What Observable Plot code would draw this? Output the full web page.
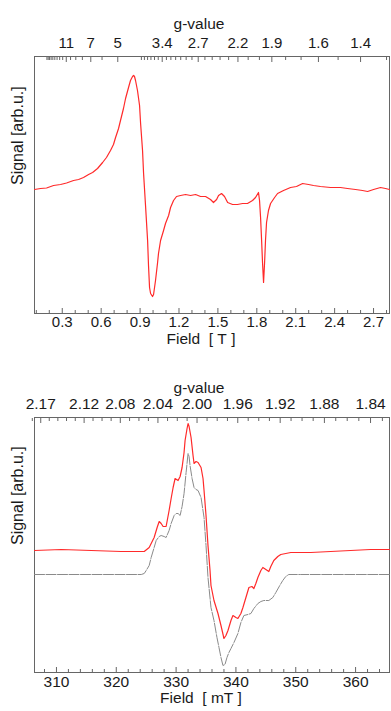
<!DOCTYPE html>
<html><head><meta charset="utf-8">
<script src="https://cdn.jsdelivr.net/npm/d3@7"></script>
<script src="https://cdn.jsdelivr.net/npm/@observablehq/plot@0.6"></script>
<style>
body{margin:0;background:#fff;}
#c{width:391px;}
#c svg{display:block;}
</style></head><body><div id="c"></div>
<script>
// ---------- Top panel: wide-field EPR spectrum (Field in T) ----------
const topField = [0.086,0.133,0.179,0.233,0.287,0.333,0.387,0.426,0.464,0.503,0.534,0.572,0.611,0.641,0.672,0.695,0.711,0.734,0.749,0.772,0.788,0.811,0.826,0.842,0.850,0.857,0.865,0.880,0.896,0.904,0.919,0.927,0.942,0.958,0.965,0.973,0.981,0.996,1.004,1.019,1.035,1.042,1.058,1.081,1.096,1.120,1.135,1.158,1.181,1.212,1.251,1.289,1.328,1.366,1.405,1.443,1.466,1.490,1.505,1.528,1.551,1.575,1.613,1.651,1.690,1.728,1.767,1.790,1.813,1.821,1.829,1.837,1.844,1.852,1.860,1.867,1.875,1.890,1.906,1.937,1.960,2.006,2.060,2.106,2.153,2.199,2.237,2.291,2.368,2.445,2.499,2.561,2.615,2.654,2.700,2.754,2.792,2.823];
const topSignal = [0,0.01,0.015,0.04,0.05,0.065,0.09,0.10,0.12,0.15,0.17,0.21,0.27,0.32,0.39,0.45,0.52,0.61,0.69,0.81,0.91,1.02,1.09,1.13,1.14,1.13,1.09,0.99,0.84,0.66,0.39,0.16,-0.16,-0.51,-0.76,-0.98,-1.04,-1.07,-1.05,-0.91,-0.73,-0.64,-0.51,-0.41,-0.34,-0.26,-0.18,-0.11,-0.07,-0.06,-0.05,-0.06,-0.05,-0.07,-0.07,-0.10,-0.13,-0.10,-0.06,-0.04,-0.07,-0.13,-0.15,-0.15,-0.14,-0.14,-0.11,-0.08,-0.03,-0.11,-0.28,-0.51,-0.73,-0.93,-0.73,-0.51,-0.33,-0.21,-0.14,-0.08,-0.04,-0.01,0.02,0.03,0.06,0.05,0.04,0.03,0.02,0.02,0.01,0,-0.01,-0.02,0,0.02,0.01,0];
const topFieldTicks = [0.3,0.6,0.9,1.2,1.5,1.8,2.1,2.4,2.7];
const topFieldMinor = [0.1,0.2,0.4,0.5,0.7,0.8,1.0,1.1,1.3,1.4,1.6,1.7,1.9,2.0,2.2,2.3,2.5,2.6,2.8];
const topGTicks = [11,7,5,3.4,2.7,2.2,1.9,1.6,1.4];
const topGLabels = ["11","7","5","3.4","2.7","2.2","1.9","1.6","1.4"];
const topGMinor = [20,19,18,17,16,15,14,13,12,10,9,8,6,4,3.9,3.8,3.7,3.6,3.5,3.3,3.2,3.1,3.0,2.9,2.8,2.6,2.5,2.4,2.3,2.1,2.0,1.8,1.7,1.5,1.3];
const topGB = 3.64;   // g * B [T]

// ---------- Bottom panel: X-band spectrum (Field in mT) ----------
const botField = [306.33,310.83,315.83,320.83,324.67,325.5,326.33,326.83,327.17,327.5,327.83,328.33,328.83,329.17,329.5,329.83,330.33,330.67,331.0,331.33,331.5,331.83,332.0,332.17,332.5,332.83,333.0,333.33,333.67,334.17,334.5,334.67,335.0,335.33,335.67,335.83,336.33,337.0,337.5,338.0,338.33,338.67,339.17,339.5,340.0,340.33,340.83,341.17,341.67,342.17,342.67,343.0,343.33,343.67,344.17,344.5,345.0,345.5,345.83,346.33,347.0,347.5,349.17,352.5,355.83,359.17,362.5,365.67];
const botSignal = [0.24,0.25,0.24,0.23,0.23,0.27,0.37,0.47,0.53,0.51,0.48,0.48,0.64,0.76,0.87,0.96,0.94,0.98,1.07,1.22,1.34,1.46,1.51,1.48,1.37,1.19,1.11,1.13,1.12,1.07,0.96,0.84,0.59,0.29,0.04,-0.11,-0.26,-0.39,-0.51,-0.64,-0.61,-0.56,-0.46,-0.41,-0.43,-0.44,-0.39,-0.33,-0.23,-0.13,-0.12,-0.14,-0.09,-0.03,0.04,0.07,0.05,0.03,0.08,0.14,0.18,0.20,0.22,0.22,0.23,0.24,0.25,0.25];
const simField = [306.33,324.17,324.67,325.0,325.5,325.83,326.33,326.67,327.17,327.5,328.0,328.33,328.83,329.17,329.67,330.0,330.33,330.67,331.0,331.33,331.67,332.0,332.17,332.33,332.67,333.0,333.33,333.67,334.17,334.67,335.0,335.33,335.83,336.33,336.83,337.17,337.5,337.83,338.17,338.5,338.83,339.17,339.67,340.33,340.83,341.33,342.0,342.5,343.0,343.67,344.17,344.67,345.5,346.17,346.67,347.33,347.83,348.33,348.83,350.83,365.67];
const simSignal = [0,0,0.01,0.04,0.09,0.17,0.27,0.34,0.38,0.39,0.38,0.37,0.44,0.51,0.59,0.61,0.61,0.59,0.68,0.81,1.02,1.21,1.18,1.09,0.96,0.87,0.85,0.84,0.77,0.57,0.29,-0.03,-0.33,-0.46,-0.63,-0.73,-0.83,-0.91,-0.90,-0.83,-0.78,-0.74,-0.68,-0.59,-0.48,-0.41,-0.40,-0.39,-0.34,-0.29,-0.27,-0.26,-0.26,-0.23,-0.18,-0.11,-0.06,-0.02,0,0,0];
const botFieldTicks = [310,320,330,340,350,360];
const botFieldMinor = [308,312,314,316,318,322,324,326,328,332,334,336,338,342,344,346,348,352,354,356,358,362,364];
const botGTicks = [2.17,2.12,2.08,2.04,2.00,1.96,1.92,1.88,1.84];
const botGLabels = ["2.17","2.12","2.08","2.04","2.00","1.96","1.92","1.88","1.84"];
const botGMinor = [2.18,2.16,2.15,2.14,2.13,2.11,2.10,2.09,2.07,2.06,2.05,2.03,2.02,2.01,1.99,1.98,1.97,1.95,1.94,1.93,1.91,1.90,1.89,1.87,1.86,1.85,1.83];
const botGB = 667;    // g * B [mT]

const FONT = "Arimo, 'Liberation Sans', Arial, Helvetica, sans-serif";
const TXT = "#1a1a1a", AX = "#666";
const TITLE_FS = 15.5;

function panel(o) {
  const gMap = new Map(o.gTicks.map((g, i) => [o.gB / g, o.gLabels[i]]));
  const marks = [
    Plot.frame({stroke: AX}),
    // bottom field axis
    Plot.axisX(o.xMinor, {anchor: "bottom", tickSize: -3, stroke: AX, fill: "none", label: null}),
    Plot.axisX(o.xTicks, {anchor: "bottom", tickSize: -5, tickPadding: 8, stroke: AX, fill: TXT, fontSize: o.xFs, tickFormat: o.xFmt, label: null}),
    // top g-value axis
    Plot.axisX(o.gMinor.map(g => o.gB / g), {anchor: "top", tickSize: -3, stroke: AX, fill: "none", label: null}),
    Plot.axisX(o.gTicks.map(g => o.gB / g), {anchor: "top", tickSize: -5, tickPadding: 14, stroke: AX, fill: TXT, fontSize: o.gFs, tickFormat: b => gMap.get(b), label: null}),
    Plot.text(["g-value"], {frameAnchor: "top", dx: -13, dy: o.gLabelDy, fontSize: TITLE_FS, fill: TXT}),
    Plot.text([o.xLabel], {frameAnchor: "bottom", dx: -11, dy: 30, fontSize: TITLE_FS, fill: TXT}),
    Plot.text(["Signal [arb.u.]"], {frameAnchor: "left", rotate: -90, dx: -17, fontSize: 16, fill: TXT}),
  ];
  for (const s of o.series) marks.push(Plot.line(s.y, {x: s.x, y: d => d, stroke: s.stroke, strokeWidth: s.w, strokeDasharray: s.dash}));
  return Plot.plot({
    width: 391, height: o.height,
    marginTop: o.mt, marginBottom: o.mb, marginLeft: 34, marginRight: 2,
    style: {fontFamily: FONT, background: "#fff", color: TXT},
    x: {domain: o.xDomain},
    y: {domain: o.yDomain, axis: null},
    marks
  });
}

const c = document.getElementById("c");
c.append(panel({
  height: 355, mt: 56, mb: 42,
  xDomain: [0.086, 2.823], yDomain: [-1.24, 1.33],
  xTicks: topFieldTicks, xMinor: topFieldMinor, xFmt: d => d.toFixed(1), xFs: 15, gFs: 15,
  gTicks: topGTicks, gLabels: topGLabels, gMinor: topGMinor, gB: topGB,
  gLabelDy: -39, xLabel: "Field\u00a0 [\u00a0T\u00a0]",
  series: [{x: topField, y: topSignal, stroke: "#ff2a2a", w: 1.2}]
}));
c.append(panel({
  height: 356, mt: 62, mb: 39,
  xDomain: [306.33, 365.67], yDomain: [-0.98, 1.57],
  xTicks: botFieldTicks, xMinor: botFieldMinor, xFmt: d => String(d), xFs: 15.5, gFs: 15.5,
  gTicks: botGTicks, gLabels: botGLabels, gMinor: botGMinor, gB: botGB,
  gLabelDy: -36, xLabel: "Field\u00a0 [\u00a0mT\u00a0]",
  series: [
    {x: simField, y: simSignal, stroke: "#8a8a8a", w: 1, dash: "10,1.5"},
    {x: botField, y: botSignal, stroke: "#ff2a2a", w: 1.2}
  ]
}));
</script></body></html>
